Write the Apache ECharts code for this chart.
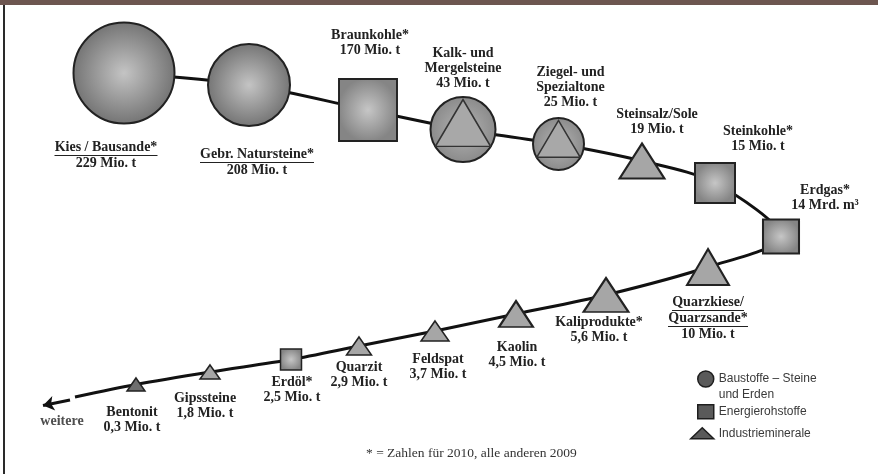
<!DOCTYPE html>
<html><head><meta charset="utf-8">
<script src="https://cdn.jsdelivr.net/npm/echarts@6/dist/echarts.min.js"></script>
<style>
html,body{margin:0;padding:0;background:#fff;}
#wrap{position:relative;width:878px;height:474px;overflow:hidden;background:#fff;}
#chart{position:absolute;left:0;top:0;width:878px;height:474px;}
#bar{position:absolute;left:0;top:0;width:878px;height:5px;background:#6d5650;z-index:2;}
#edge{position:absolute;left:3px;top:5px;width:2px;height:469px;background:#2a2a2a;z-index:2;}
</style></head>
<body><div id="wrap"><div id="chart"></div><div id="bar"></div><div id="edge"></div></div>
<script>
// ---------- data ----------
const names = ['Kies / Bausande*','Gebr. Natursteine*','Braunkohle*','Kalk- und\nMergelsteine','Ziegel- und\nSpezialtone','Steinsalz/Sole','Steinkohle*','Erdgas*','Quarzkiese/\nQuarzsande*','Kaliprodukte*','Kaolin','Feldspat','Quarzit','Erdöl*','Gipssteine','Bentonit'];
const amounts = [229, 208, 170, 43, 25, 19, 15, 14, 10, 5.6, 4.5, 3.7, 2.9, 2.5, 1.8, 0.3];
const units = ['Mio. t','Mio. t','Mio. t','Mio. t','Mio. t','Mio. t','Mio. t','Mrd. m³','Mio. t','Mio. t','Mio. t','Mio. t','Mio. t','Mio. t','Mio. t','Mio. t'];
const groups = ['B','B','E','BI','BI','I','E','E','I','I','I','I','I','E','I','I'];
const underlined = [true,true,false,false,false,false,false,false,true,false,false,false,false,false,false,false];
const groupNames = { B: 'Baustoffe – Steine\nund Erden', E: 'Energierohstoffe', I: 'Industrieminerale' };
const footnote = '* = Zahlen für 2010, alle anderen 2009';
const moreLabel = 'weitere';

// ---------- layout (track in a hidden 878 x 474 coordinate system) ----------
const pos = [[124,73],[249,85],[368,110],[463,129.5],[558.5,144],[642,161],[715,183],[781,236.5],[708,267],[606,295],[516,314],[435,331],[359,346],[291,359.5],[210,372],[136,384.5]];
const trackEnd = [75,397];
const arrowPath = [[70,400],[43,405.5]];
const morePos = [43,405.5];
const sizes = [[101,101],[82,82],[58,62],[65,65],[51,52],[45,35],[40,40],[36,34],[42,36],[45,34],[34,26],[28,20],[25,18],[21,21],[20,14],[18,13]];
const labelOffsets = [[-18,67],[8,62],[2,-82],[0,-84],[12,-79],[15,-54],[43,-59],[44,-54],[0,28],[-7,20],[1,26],[3,21],[0,14],[1,15],[-5,19],[-4,20]];

// ---------- styles ----------
const INK = '#222';
const radial = (c0, c1) => ({ type:'radial', x:0.5, y:0.5, r:0.5, colorStops:[{offset:0,color:c0},{offset:1,color:c1}] });
const circleFill = radial('#c4c4c4', '#747474');
const mixCircleFill = radial('#b4b4b4', '#8a8a8a');
const rectFill = radial('#c6c6c6', '#858585');
const triFill = '#a6a6a6';

const ctx = document.createElement('canvas').getContext('2d');
ctx.font = 'bold 14px "Liberation Serif"';
const fmtNum = v => String(v).replace('.', ',');

function makeLabel(i) {
  const rich = { n: { fontFamily:'Liberation Serif', fontWeight:'bold', fontSize:14, lineHeight:15, color:INK } };
  const rows = [];
  names[i].split('\n').forEach((ln, k) => {
    rows.push('{n|' + ln + '}');
    if (underlined[i]) {
      const key = 'u' + k;
      rich[key] = { width: Math.ceil(ctx.measureText(ln).width), height: 1, lineHeight: 1, fontSize: 1, backgroundColor: INK };
      rows.push('{' + key + '| }');
    }
  });
  rows.push('{n|' + fmtNum(amounts[i]) + ' ' + units[i] + '}');
  return { show:true, position:'inside', align:'center', verticalAlign:'top', offset: labelOffsets[i], formatter: rows.join('\n'), rich };
}

const circleData = [], rectData = [], triData = [];
names.forEach((nm, i) => {
  const g = groups[i];
  const bw = sizes[i][0] > 30 ? 2 : 1.5;
  if (g === 'B' || g === 'BI') {
    circleData.push({ value: pos[i], symbolSize: sizes[i], label: makeLabel(i),
      itemStyle: { color: g === 'BI' ? mixCircleFill : circleFill, borderColor: INK, borderWidth: bw, opacity: 1 } });
  }
  if (g === 'BI') {
    const d = sizes[i][0];
    triData.push({ value: pos[i], symbolSize: [d * 0.85, d * 0.72], symbolOffset: [0, -d * 0.1], label: { show:false },
      itemStyle: { color: '#a8a8a8', borderColor: '#333', borderWidth: 1.5, opacity: 1 } });
  }
  if (g === 'E') {
    rectData.push({ value: pos[i], symbolSize: sizes[i], label: makeLabel(i),
      itemStyle: { color: rectFill, borderColor: INK, borderWidth: bw, opacity: 1 } });
  }
  if (g === 'I') {
    triData.push({ value: pos[i], symbolSize: sizes[i], label: makeLabel(i),
      itemStyle: { color: i === names.length - 1 ? '#6e6e6e' : triFill, borderColor: INK, borderWidth: bw, opacity: 1 } });
  }
});

const legendText = { fontFamily:'Liberation Sans', fontSize:12, color:'#3a3a3a' };
const legendItem = { color:'#5a5a5a', borderColor:'#1e1e1e', borderWidth:1.5, opacity: 1 };

const chart = echarts.init(document.getElementById('chart'), null, { renderer:'canvas' });
chart.setOption({
  animation: false,
  backgroundColor: '#fff',
  grid: { left:0, right:0, top:0, bottom:0 },
  xAxis: { type:'value', min:0, max:878, show:false },
  yAxis: { type:'value', min:0, max:474, inverse:true, show:false },
  title: { text: footnote, left: 366, top: 446, padding: 0,
    textStyle: { fontFamily:'Liberation Serif', fontSize:13.5, fontWeight:'normal', color:'#333' } },
  legend: [
    { data:[groupNames.B], left:697, top:355, padding:0, icon:'circle', itemWidth:16, itemHeight:16, selectedMode:false,
      formatter: n => '\n' + n,
      textStyle: Object.assign({ lineHeight:16 }, legendText), itemStyle: legendItem },
    { data:[groupNames.E], left:697, top:404, padding:0, icon:'rect', itemWidth:16, itemHeight:14, selectedMode:false,
      textStyle: legendText, itemStyle: legendItem },
    { data:[groupNames.I], left:690, top:427, padding:0, icon:'triangle', itemWidth:23, itemHeight:11, selectedMode:false,
      textStyle: legendText, itemStyle: legendItem }
  ],
  series: [
    { type:'line', name:'track', data: pos.concat([trackEnd]), smooth:0.3, symbol:'none', silent:true, z:1,
      lineStyle:{ color:'#111', width:3 } },
    { type:'lines', coordinateSystem:'cartesian2d', silent:true, z:1, symbol:['none','arrow'], symbolSize:11,
      lineStyle:{ color:'#111', width:3, opacity:1 }, data:[{ coords: arrowPath }] },
    { type:'scatter', name: groupNames.B, symbol:'circle', z:2, silent:true, data: circleData, itemStyle:{ color: circleFill, opacity:1 } },
    { type:'scatter', name: groupNames.E, symbol:'rect', z:2, silent:true, data: rectData, itemStyle:{ color: rectFill, opacity:1 } },
    { type:'scatter', name: groupNames.I, symbol:'triangle', z:3, silent:true, data: triData, itemStyle:{ color: triFill, opacity:1 } },
    { type:'scatter', name:'more', symbolSize:1, z:3, silent:true, itemStyle:{ color:'rgba(0,0,0,0)' },
      data:[{ value: morePos, label:{ show:true, formatter: moreLabel, position:'inside', offset:[19,16],
        fontFamily:'Liberation Serif', fontWeight:'bold', fontSize:14, color:INK } }] }
  ]
});
</script></body></html>
